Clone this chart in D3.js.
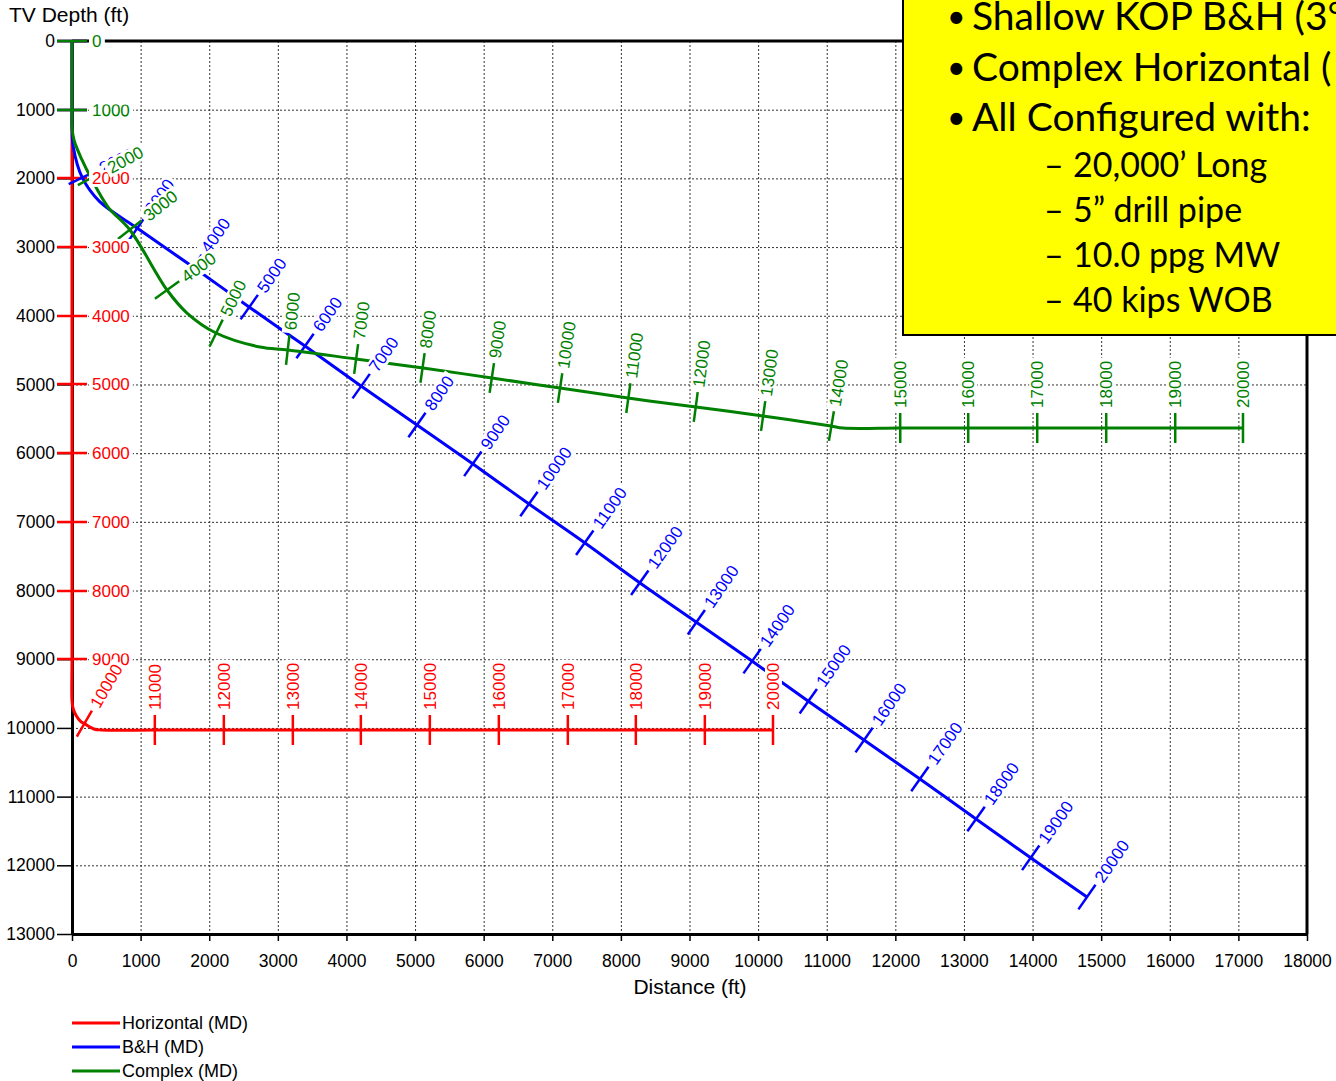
<!DOCTYPE html>
<html>
<head>
<meta charset="utf-8">
<script src="https://cdn.jsdelivr.net/npm/d3@7.9.0/dist/d3.min.js"></script>
<style>
  body { margin: 0; background: #fff; }
  svg { display: block; font-family: "Liberation Sans", Arial, sans-serif; }
</style>
</head>
<body>
<svg id="chart" width="1336" height="1081"></svg>
<script>
// measured depth of the labelled stations (ft), same for every well
const mdStations = [0, 1000, 2000, 3000, 4000, 5000, 6000, 7000, 8000, 9000, 10000,
  11000, 12000, 13000, 14000, 15000, 16000, 17000, 18000, 19000, 20000];

// Horizontal well: distance / true vertical depth at each station
const horizDist = [0, 0, 0, 0, 0, 0, 0, 0, 0, 0, 185,
  1210, 2215, 3221, 4212, 5218, 6223, 7229, 8220, 9226, 10217];
const horizTvd = [0, 1000, 2000, 3000, 4000, 5000, 6000, 7000, 8000, 9000, 9940,
  10030, 10030, 10030, 10030, 10030, 10030, 10030, 10030, 10030, 10030];
// extra vertices
const horizBendDist = [0, 15, 58, 126, 319, 430];
const horizBendTvd = [9600, 9711, 9815, 9904, 10015, 10030];

// B&H well
const bhDist = [0, 0, 150, 947, 1764, 2580, 3396, 4212, 5028, 5845, 6661,
  7477, 8279, 9095, 9911, 10727, 11543, 12359, 13176, 13977, 14793];
const bhTvd = [0, 1000, 1990, 2722, 3290, 3872, 4440, 5022, 5590, 6158, 6740,
  7308, 7890, 8458, 9026, 9608, 10176, 10744, 11326, 11894, 12462];
const bhBendDist = [0, 20, 400];
const bhBendTvd = [1250, 1550, 2335];

// Complex well
const cxDist = [0, 0, 277, 845, 1385, 2099, 3148, 4139, 5116, 6121, 7113,
  8104, 9095, 10071, 11062, 12068, 13059, 14065, 15071, 16076, 17067];
const cxTvd = [0, 1000, 1994, 2751, 3625, 4251, 4498, 4629, 4760, 4906, 5052,
  5198, 5328, 5459, 5605, 5634, 5634, 5634, 5634, 5634, 5634];
const cxBendDist = [0, 29, 146, 525, 1676, 2740, 11237];
const cxBendTvd = [1250, 1441, 1732, 2417, 3960, 4455, 5634];

const xTicks = [0, 1000, 2000, 3000, 4000, 5000, 6000, 7000, 8000, 9000,
  10000, 11000, 12000, 13000, 14000, 15000, 16000, 17000, 18000];
const yTicks = [0, 1000, 2000, 3000, 4000, 5000, 6000, 7000, 8000, 9000,
  10000, 11000, 12000, 13000];

const wellNames = ["Horizontal (MD)", "B&H (MD)", "Complex (MD)"];
const wellColors = ["#ff0000", "#0000ff", "#008000"];

const noteBullets = ["Shallow KOP B&H (3°", "Complex Horizontal (", "All Configured with:"];
const noteDashes = ["20,000’ Long", "5” drill pipe", "10.0 ppg MW", "40 kips WOB"];

const svg = d3.select("#chart");
const x = d3.scaleLinear().domain([0, 18000]).range([72, 1307]);
const y = d3.scaleLinear().domain([0, 13000]).range([41, 934]);
const TICK = 15;

// grid
const grid = svg.append("g").attr("stroke", "#333").attr("stroke-width", 1)
  .attr("stroke-dasharray", "2,2");
grid.selectAll(".gx").data(xTicks.filter(d => d > 0 && d < 18000)).enter()
  .append("line")
  .attr("x1", d => x(d) + 0.5).attr("x2", d => x(d) + 0.5)
  .attr("y1", y(0)).attr("y2", y(13000));
grid.selectAll(".gy").data(yTicks.filter(d => d > 0 && d < 13000)).enter()
  .append("line")
  .attr("y1", d => y(d) + 0.5).attr("y2", d => y(d) + 0.5)
  .attr("x1", x(0)).attr("x2", x(18000));

// frame top / right
svg.append("line").attr("x1", x(0)).attr("x2", x(18000)).attr("y1", y(0)).attr("y2", y(0))
  .attr("stroke", "#000").attr("stroke-width", 3);
svg.append("line").attr("x1", x(18000)).attr("x2", x(18000)).attr("y1", y(0)).attr("y2", y(13000))
  .attr("stroke", "#000").attr("stroke-width", 3);

// axes
const yAxis = svg.append("g").attr("transform", `translate(${x(0)},0)`)
  .call(d3.axisLeft(y).tickValues(yTicks).tickSize(15).tickPadding(2).tickSizeOuter(0)
    .tickFormat(d3.format("d")));
const xAxis = svg.append("g").attr("transform", `translate(0,${y(13000)})`)
  .call(d3.axisBottom(x).tickValues(xTicks).tickSize(7).tickPadding(14).tickSizeOuter(0)
    .tickFormat(d3.format("d")));
[yAxis, xAxis].forEach(g => {
  g.attr("font-family", null).attr("font-size", null);
  g.select(".domain").attr("stroke", "#000").attr("stroke-width", 3);
  g.selectAll(".tick line").attr("stroke", "#000").attr("stroke-width", 1.5);
  g.selectAll(".tick text").attr("fill", "#000").style("font-size", "17.5px");
});

svg.append("text").attr("x", 9).attr("y", 22).style("font-size", "21px").text("TV Depth (ft)");
svg.append("text").attr("x", 690).attr("y", 994).attr("text-anchor", "middle")
  .style("font-size", "21px").text("Distance (ft)");

// wells
const wells = [
  { dist: horizDist, tvd: horizTvd, bd: horizBendDist, bt: horizBendTvd },
  { dist: bhDist, tvd: bhTvd, bd: bhBendDist, bt: bhBendTvd },
  { dist: cxDist, tvd: cxTvd, bd: cxBendDist, bt: cxBendTvd }
].map((w, i) => {
  const stations = mdStations.map((md, j) => ({ md, d: w.dist[j], t: w.tvd[j] }));
  const bends = w.bd.map((d, j) => ({ d, t: w.bt[j] }));
  const pts = stations.concat(bends).sort((a, b) => (a.d + a.t) - (b.d + b.t));
  return { name: wellNames[i], color: wellColors[i], stations, pts };
});

const line = d3.line().x(p => x(p.d)).y(p => y(p.t)).curve(d3.curveCatmullRom.alpha(0.5));
const lineLayer = svg.append("g");
const labelLayer = svg.append("g");

wells.forEach(w => {
  const path = lineLayer.append("path").datum(w.pts)
    .attr("d", line).attr("fill", "none")
    .attr("stroke", w.color).attr("stroke-width", 3);
  const node = path.node();
  const L = node.getTotalLength();
  const samples = [];
  for (let s = 0; s <= L; s += 1) samples.push(node.getPointAtLength(s));
  samples.push(node.getPointAtLength(L));

  w.marks = w.stations.map(st => {
    const px = x(st.d), py = y(st.t);
    let best = 0, bd = Infinity;
    samples.forEach((p, k) => {
      const dd = (p.x - px) ** 2 + (p.y - py) ** 2;
      if (dd < bd) { bd = dd; best = k; }
    });
    const a = samples[Math.max(0, best - 3)];
    const b = samples[Math.min(samples.length - 1, best + 3)];
    const len = Math.hypot(b.x - a.x, b.y - a.y) || 1;
    const tx = (b.x - a.x) / len, ty = (b.y - a.y) / len;
    const c = samples[best];
    return { md: st.md, cx: c.x, cy: c.y, nx: ty, ny: -tx };
  });

  lineLayer.append("g").selectAll("line").data(w.marks).enter().append("line")
    .attr("x1", m => m.cx - m.nx * TICK).attr("y1", m => m.cy - m.ny * TICK)
    .attr("x2", m => m.cx + m.nx * TICK).attr("y2", m => m.cy + m.ny * TICK)
    .attr("stroke", w.color).attr("stroke-width", 2.5);
});

// labels with white boxes: blue, red, green
[1, 0, 2].forEach(i => {
  const w = wells[i];
  w.marks.forEach(m => {
    const ang = Math.atan2(m.ny, m.nx) * 180 / Math.PI;
    const off = TICK + 5;
    const g = labelLayer.append("g")
      .attr("transform", `translate(${m.cx + m.nx * off},${m.cy + m.ny * off}) rotate(${ang})`);
    const bg = g.append("rect").attr("fill", "#fff");
    const t = g.append("text").attr("dy", "0.35em").attr("fill", w.color)
      .style("font-size", "17px").text(m.md);
    const bb = t.node().getBBox();
    bg.attr("x", bb.x - 3).attr("y", bb.y + 1).attr("width", bb.width + 6).attr("height", bb.height - 2);
  });
});

// note box
const note = svg.append("g");
note.append("rect").attr("x", 903).attr("y", -5).attr("width", 450).attr("height", 340)
  .attr("fill", "#ffff00").attr("stroke", "#000").attr("stroke-width", 2);
const noteFont = "Lato, 'Open Sans', sans-serif";
noteBullets.forEach((s, i) => {
  const by = 30 + i * 50.5;
  note.append("text").attr("x", 947).attr("y", by - 2).attr("font-family", noteFont)
    .style("font-size", "32px").text("•");
  note.append("text").attr("x", 972).attr("y", by).attr("font-family", noteFont)
    .style("font-size", "39px").text(s);
});
noteDashes.forEach((s, i) => {
  const by = 177 + i * 45;
  note.append("text").attr("x", 1044).attr("y", by).attr("font-family", noteFont)
    .style("font-size", "34px").text("–");
  note.append("text").attr("x", 1073).attr("y", by).attr("font-family", noteFont)
    .style("font-size", "34px").text(s);
});

// legend
const legend = svg.append("g").selectAll("g").data(wells).enter().append("g")
  .attr("transform", (d, i) => `translate(72,${1023 + i * 24})`);
legend.append("line").attr("x1", 0).attr("x2", 48).attr("stroke", d => d.color).attr("stroke-width", 3);
legend.append("text").attr("x", 50).attr("dy", "0.35em").style("font-size", "18px").text(d => d.name);
</script>
</body>
</html>
